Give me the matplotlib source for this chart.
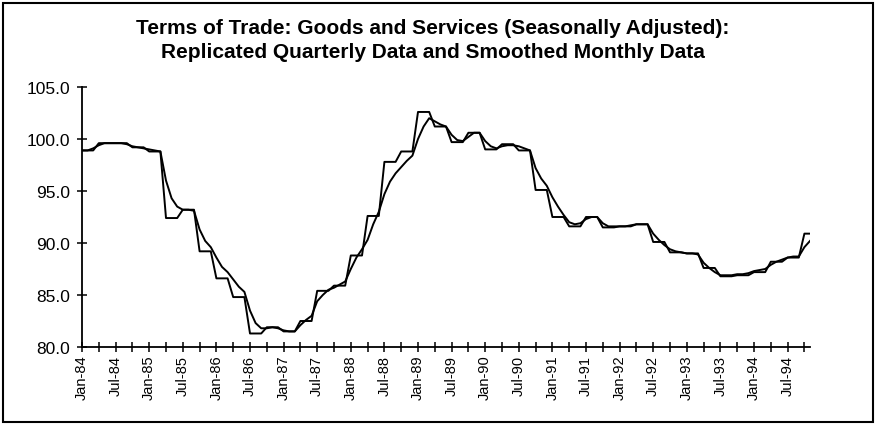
import numpy as np
import matplotlib
matplotlib.use("Agg")
import matplotlib.pyplot as plt
from matplotlib.patches import Rectangle

# quarterly values Q1-84 .. Q4-94 (replicated over the 3 months of each quarter)
quarterly = [98.9, 99.6, 99.6, 99.2,
             98.8, 92.4, 93.2, 89.2,
             86.6, 84.8, 81.3, 81.9,
             81.5, 82.5, 85.4, 85.9,
             88.8, 92.6, 97.8, 98.8,
             102.6, 101.2, 99.7, 100.6,
             99.0, 99.5, 98.9, 95.1,
             92.5, 91.6, 92.5, 91.5,
             91.6, 91.8, 90.1, 89.1,
             89.0, 87.6, 86.8, 86.9,
             87.2, 88.2, 88.6, 90.9]

# smoothed monthly values Jan-84 .. Nov-94
smoothed = [98.9, 98.9, 99.1, 99.4, 99.6, 99.6, 99.6, 99.6, 99.5, 99.3, 99.2, 99.1,
            99.0, 98.9, 98.8, 96.0, 94.3, 93.5, 93.2, 93.2, 93.1, 91.3, 90.2, 89.6,
            88.6, 87.7, 87.2, 86.5, 85.8, 85.3, 83.5, 82.3, 81.8, 81.8, 81.9, 81.8,
            81.6, 81.5, 81.5, 82.1, 82.6, 83.0, 84.4, 85.0, 85.5, 85.7, 86.0, 86.3,
            87.5, 88.6, 89.4, 90.3, 91.8, 93.0, 94.7, 95.9, 96.7, 97.3, 97.9, 98.4,
            100.0, 101.2, 102.0, 101.7, 101.4, 101.2, 100.4, 99.9, 99.8, 100.2, 100.6, 100.6,
            99.8, 99.3, 99.1, 99.3, 99.4, 99.4, 99.3, 99.1, 98.9, 97.2, 96.2, 95.5,
            94.4, 93.5, 92.7, 92.0, 91.8, 91.9, 92.3, 92.5, 92.5, 91.9, 91.6, 91.6,
            91.6, 91.6, 91.7, 91.8, 91.8, 91.8, 90.9, 90.3, 89.8, 89.4, 89.2, 89.1,
            89.0, 89.0, 88.9, 88.1, 87.6, 87.2, 86.9, 86.9, 86.9, 87.0, 87.0, 87.1,
            87.3, 87.4, 87.5, 87.9, 88.2, 88.4, 88.6, 88.7, 88.7, 89.6, 90.2]

tick_labels = ['Jan-84', 'Jul-84', 'Jan-85', 'Jul-85', 'Jan-86', 'Jul-86',
               'Jan-87', 'Jul-87', 'Jan-88', 'Jul-88', 'Jan-89', 'Jul-89',
               'Jan-90', 'Jul-90', 'Jan-91', 'Jul-91', 'Jan-92', 'Jul-92',
               'Jan-93', 'Jul-93', 'Jan-94', 'Jul-94']

n = len(smoothed)
months = np.arange(n)
replicated = np.repeat(quarterly, 3)[:n]

W, H = 876, 427
fig = plt.figure(figsize=(W / 100, H / 100), dpi=100)
plt.rcParams['font.family'] = ['Liberation Sans', 'DejaVu Sans']

ax = fig.add_axes([82 / W, (H - 348) / H, (810 - 82) / W, (348 - 88) / H])
ax.plot(months, replicated, color='black', lw=1.4)
ax.plot(months, smoothed, color='black', lw=1.4)

ax.set_xlim(0, n - 1)
ax.set_ylim(80, 105)
ax.set_xticks(np.arange(0, n, 6))
ax.set_xticks(np.arange(0, n, 3), minor=True)
ax.set_xticklabels(tick_labels, rotation=90, fontsize=10.5)
ax.set_yticks(np.arange(80, 106, 5))
ax.set_yticklabels(['%.1f' % v for v in np.arange(80, 106, 5)], fontsize=12.5)
ax.tick_params(axis='both', which='both', direction='inout', length=7, width=1.1, color='black')
ax.tick_params(axis='x', pad=2)
ax.tick_params(axis='y', pad=5)
for side in ['top', 'right']:
    ax.spines[side].set_visible(False)
for side in ['left', 'bottom']:
    ax.spines[side].set_linewidth(1.3)

fig.text(433 / W, 1 - 29 / H, 'Terms of Trade: Goods and Services (Seasonally Adjusted):',
         ha='center', va='center', fontsize=15, fontweight='bold')
fig.text(433 / W, 1 - 53 / H, 'Replicated Quarterly Data and Smoothed Monthly Data',
         ha='center', va='center', fontsize=15, fontweight='bold')

fig.patches.append(Rectangle((3 / W, 4 / H), (873 - 3) / W, (423 - 4) / H,
                             transform=fig.transFigure, fill=False, lw=1.5, color='black'))

fig.savefig('out.png', dpi=100)
